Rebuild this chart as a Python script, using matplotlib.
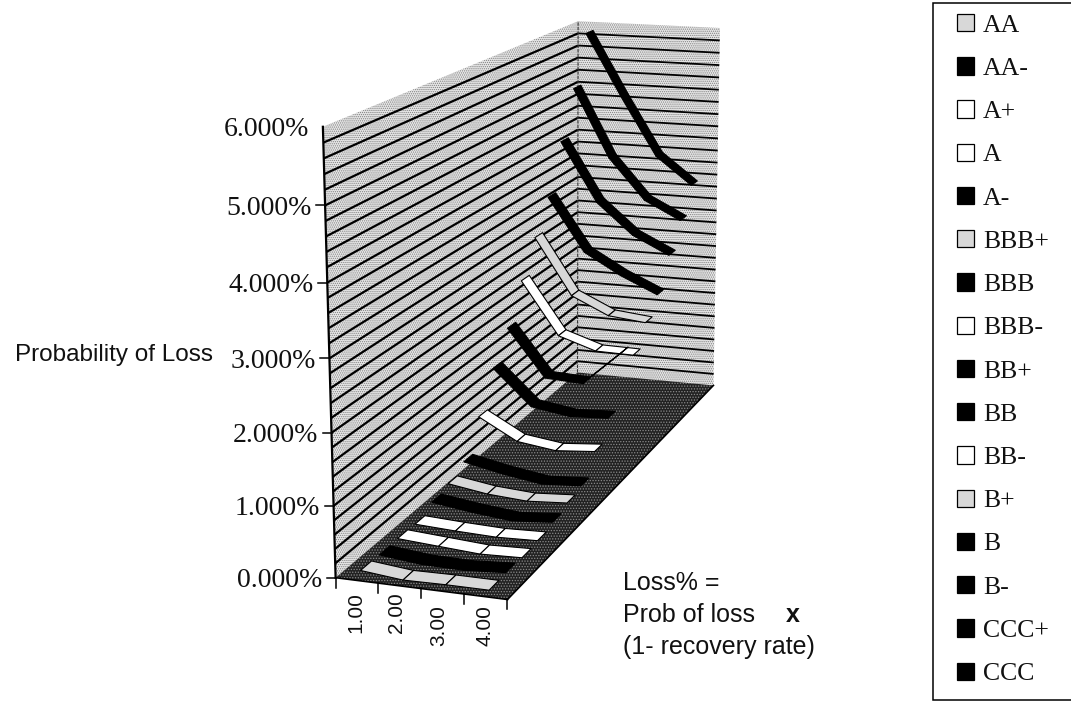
import numpy as np
import matplotlib
matplotlib.use("Agg")
import matplotlib.pyplot as plt
from matplotlib.patches import Polygon, Patch, Rectangle

SANS = "Liberation Sans"
SERIF = "Liberation Serif"

ratings = ["AA", "AA-", "A+", "A", "A-", "BBB+", "BBB", "BBB-", "BB+", "BB", "BB-", "B+", "B", "B-", "CCC+", "CCC"]
styles = ["gray", "black", "white", "white", "black", "gray", "black", "white",
          "black", "black", "white", "gray", "black", "black", "black", "black"]
categories = [1.0, 2.0, 3.0, 4.0]

# probability of loss (%) per rating, one value per category
loss_pct = {
    "AA":   [0.09, 0.03, 0.04, 0.04],
    "AA-":  [0.08, 0.02, 0.01, 0.05],
    "A+":   [0.09, 0.05, 0.01, 0.03],
    "A":    [0.08, 0.05, 0.03, 0.05],
    "A-":   [0.19, 0.11, 0.05, 0.10],
    "BBB+": [0.26, 0.17, 0.13, 0.17],
    "BBB":  [0.39, 0.27, 0.18, 0.22],
    "BBB-": [0.89, 0.57, 0.49, 0.54],
    "BB+":  [1.46, 0.92, 0.83, 0.86],
    "BB":   [1.92, 1.19, 1.16, 1.69],
    "BB-":  [2.51, 1.69, 1.50, 1.49],
    "B+":   [3.05, 2.17, 1.90, 1.84],
    "B":    [3.56, 2.72, 2.39, 2.13],
    "B-":   [4.33, 3.39, 2.90, 2.62],
    "CCC+": [5.08, 3.99, 3.34, 3.05],
    "CCC":  [5.88, 4.88, 3.94, 3.50],
}

y_max = 6.0
y_ticks = [0, 1, 2, 3, 4, 5, 6]
grid_step = 0.2
ribbon_half = 0.29

# box corners on the page: (across, depth, height) -> pixel
box_corners = [((0, 0, 0), (335, 577)), ((1, 0, 0), (508, 600)), ((0, 1, 0), (578, 373)), ((1, 1, 0), (713, 385)),
               ((0, 0, 1), (323, 127)), ((0, 1, 1), (578, 21)), ((1, 1, 1), (720, 28))]


def fit_camera(pairs):
    # direct linear transform, bottom right element fixed at 1
    A, b = [], []
    for (u, d, w), (px, py) in pairs:
        A.append([u, d, w, 1, 0, 0, 0, 0, -px * u, -px * d, -px * w])
        b.append(px)
        A.append([0, 0, 0, 0, u, d, w, 1, -py * u, -py * d, -py * w])
        b.append(py)
    p = np.linalg.lstsq(np.array(A, float), np.array(b, float), rcond=None)[0]
    return np.append(p, 1).reshape(3, 4)


camera = fit_camera(box_corners)


def project(u, d, w):
    q = camera @ np.array([u, d, w, 1.0])
    return q[:2] / q[2]


def cat_u(k):
    return (k + 0.5) / len(categories)


fig = plt.figure(figsize=(10.71, 7.08), dpi=100)
ax = fig.add_axes([0, 0, 1, 1])
ax.set_xlim(0, 1071)
ax.set_ylim(708, 0)
ax.axis("off")
plt.rcParams["hatch.linewidth"] = 0.6

# walls and floor
wall_kw = dict(facecolor="#e6e6e6", edgecolor="#808080", hatch="........", linewidth=0)
left_wall = [project(0, 0, 0), project(0, 1, 0), project(0, 1, 1), project(0, 0, 1)]
back_wall = [project(0, 1, 0), project(1, 1, 0), project(1, 1, 1), project(0, 1, 1)]
floor = [project(0, 0, 0), project(1, 0, 0), project(1, 1, 0), project(0, 1, 0)]
ax.add_patch(Polygon(left_wall, zorder=1, **wall_kw))
ax.add_patch(Polygon(back_wall, zorder=1, **wall_kw))
ax.add_patch(Polygon(floor, facecolor="#222222", edgecolor="#8a8a8a", hatch="......", linewidth=0, zorder=1))

# gridlines, the top level is left out
for level in np.arange(grid_step, y_max - 0.01, grid_step):
    w = level / y_max
    a, b, c = project(0, 0, w), project(0, 1, w), project(1, 1, w)
    ax.plot([a[0], b[0]], [a[1], b[1]], color="black", lw=1.6, zorder=2, solid_capstyle="butt")
    ax.plot([b[0], c[0]], [b[1], c[1]], color="black", lw=1.3, zorder=2, solid_capstyle="butt")

# box edges
e0, e1 = project(0, 0, 0), project(0, 0, 1)
ax.plot([e0[0], e1[0]], [e0[1], e1[1]], color="black", lw=1.6, zorder=3)
e0, e1 = project(0, 1, 0), project(0, 1, 1)
ax.plot([e0[0], e1[0]], [e0[1], e1[1]], color="#333333", lw=0.8, ls=(0, (3, 1)), zorder=2)
e0, e1 = project(0, 0, 0), project(1, 0, 0)
ax.plot([e0[0], e1[0]], [e0[1], e1[1]], color="black", lw=1.2, zorder=3)
e0, e1 = project(1, 0, 0), project(1, 1, 0)
ax.plot([e0[0], e1[0]], [e0[1], e1[1]], color="black", lw=1.2, zorder=3)

# ribbons, drawn back to front so nearer ones cover farther ones
fills = {"gray": "#d8d8d8", "black": "black", "white": "white"}
for i in reversed(range(len(ratings))):
    vals = loss_pct[ratings[i]]
    d0 = (i + 0.5 - ribbon_half) / len(ratings)
    d1 = (i + 0.5 + ribbon_half) / len(ratings)
    for k in range(len(vals) - 1):
        u0, u1 = cat_u(k), cat_u(k + 1)
        w0, w1 = vals[k] / y_max, vals[k + 1] / y_max
        quad = [project(u0, d0, w0), project(u1, d0, w1), project(u1, d1, w1), project(u0, d1, w0)]
        ax.add_patch(Polygon(quad, facecolor=fills[styles[i]], edgecolor="black", linewidth=0.8,
                             joinstyle="round", zorder=4 + (len(ratings) - i) * 0.01))

# value axis ticks and labels, the top tick is not drawn
for t in y_ticks:
    p = project(0, 0, t / y_max)
    if t < y_max:
        ax.plot([p[0] - 9, p[0]], [p[1], p[1]], color="black", lw=1.1, zorder=3)
    ax.text(p[0] - 13.5, p[1], f"{t:.3f}%", ha="right", va="center_baseline", family=SERIF, fontsize=20,
            color="#111111", zorder=6)

# category ticks, labels sit on two staggered rows
for k in range(len(categories) + 1):
    p = project(k / len(categories), 0, 0)
    ax.plot([p[0], p[0]], [p[1], p[1] + 10], color="black", lw=1.1, zorder=3)
label_top = [592, 592, 605, 605]
label_shift = [-1, -3, -3, -1]
for k, c in enumerate(categories):
    p = project(cat_u(k), 0, 0)
    ax.text(p[0] + label_shift[k], label_top[k], f"{c:.2f}", rotation=90, ha="center", va="top", family=SANS,
            fontsize=15, color="#111111")

ax.text(15, 355, "Probability of Loss", ha="left", va="center", family=SANS, fontsize=17.5, color="#111111")

ax.text(623, 583, "Loss% =", ha="left", va="center", family=SANS, fontsize=18, color="#111111")
ax.text(623, 615, "Prob of loss", ha="left", va="center", family=SANS, fontsize=18, color="#111111")
ax.text(786, 615, "x", ha="left", va="center", family=SANS, fontsize=18, fontweight="bold", color="#111111")
ax.text(623, 647, "(1- recovery rate)", ha="left", va="center", family=SANS, fontsize=18, color="#111111")

# legend box runs off the right side of the page
ax.add_patch(Rectangle((933, 3), 200, 697, facecolor="white", edgecolor="black", linewidth=1.1, zorder=5))
handles = [Patch(facecolor=fills[s], edgecolor="black", linewidth=0.9, label=r) for r, s in zip(ratings, styles)]
leg = ax.legend(handles=handles, loc="upper left", bbox_to_anchor=(957, 14), bbox_transform=ax.transData,
                prop={"family": SERIF, "size": 18.5}, frameon=False,
                handlelength=0.66, handleheight=0.66, handletextpad=0.35, labelspacing=0.80,
                borderpad=0, borderaxespad=0, labelcolor="#111111")
leg.set_zorder(6)

fig.savefig("out.png", dpi=100)
